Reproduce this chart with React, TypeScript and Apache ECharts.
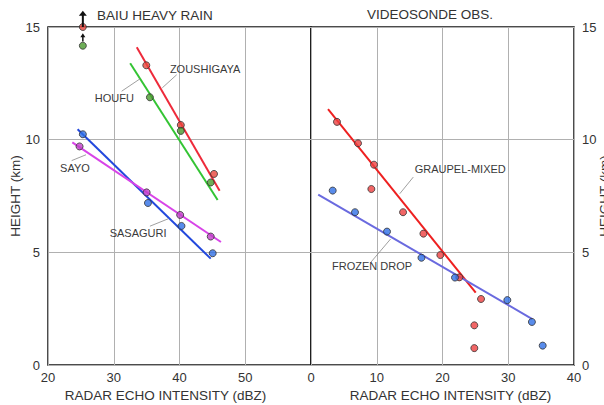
import React, { useEffect, useRef } from "react";
import * as echarts from "echarts";

// ---- Left panel: BAIU HEAVY RAIN (x: dBZ, y: km) ----
const leftXRange = [20, 60];
const rightXRange = [0, 40];
const yRange = [0, 15];
const tickStep = 5;
const xTickStep = 10;

const zoushigayaPts = [[25.3, 15.0], [34.95, 13.3], [40.2, 10.65], [45.25, 8.48]];
const houfuPts = [[25.3, 14.17], [35.5, 11.88], [40.2, 10.39], [44.75, 8.1]];
const sayoPts = [[24.8, 9.7], [35.0, 7.66], [40.1, 6.66], [44.75, 5.7]];
const sasaguriPts = [[25.3, 10.24], [35.2, 7.19], [40.3, 6.17], [45.05, 4.96]];

const zoushigayaFit = [[33.5, 14.1], [46.1, 7.73]];
const houfuFit = [[32.5, 13.39], [45.8, 7.32]];
const sasaguriFit = [[24.5, 10.46], [44.75, 4.72]];
const sayoFit = [[23.7, 9.88], [46.3, 5.46]];

// ---- Right panel: VIDEOSONDE OBS. ----
const graupelPts = [
  [3.95, 10.79], [7.15, 9.84], [9.58, 8.89], [9.18, 7.81], [14.0, 6.78], [17.1, 5.83],
  [19.67, 4.88], [22.56, 3.89], [25.86, 2.93], [24.84, 1.76], [24.84, 0.75],
];
const frozenPts = [
  [3.3, 7.74], [6.69, 6.78], [11.56, 5.92], [16.8, 4.76], [21.9, 3.88], [29.86, 2.88],
  [33.6, 1.91], [35.24, 0.86],
];
const graupelFit = [[2.59, 11.35], [25.05, 3.21]];
const frozenFit = [[1.1, 7.56], [33.66, 2.04]];

// Upward arrows (values above the top of the scale), grid 0
const arrowBig = { from: [25.3, 15.0], to: [25.3, 15.72] };
const arrowSmall = { from: [25.3, 14.36], to: [25.3, 14.72] };

// Annotations: [gridIndex, text, textPos, leaderFrom, leaderTo]
const annotations: [number, string, number[], number[], number[]][] = [
  [0, "ZOUSHIGAYA", [43.9, 13.15], [39.57, 12.88], [37.38, 12.3]],
  [0, "HOUFU", [30.1, 11.85], [31.2, 12.15], [34.0, 12.7]],
  [0, "SAYO", [24.1, 8.75], [23.6, 9.07], [25.78, 9.33]],
  [0, "SASAGURI", [33.7, 5.88], [35.5, 6.16], [38.3, 6.49]],
  [1, "GRAUPEL-MIXED", [22.7, 8.71], [15.56, 8.34], [13.5, 7.6]],
  [1, "FROZEN DROP", [9.28, 4.41], [9.1, 4.56], [12.1, 5.59]],
];

const titles = ["BAIU HEAVY RAIN", "VIDEOSONDE OBS."];
const xAxisName = "RADAR ECHO INTENSITY (dBZ)";
const yAxisName = "HEIGHT (km)";

const FONT = "Liberation Sans, Arial, sans-serif";
const TXT = "#333";

export default function App() {
  const ref = useRef<HTMLDivElement>(null);
  useEffect(() => {
    if (!ref.current) return;
    const chart = echarts.init(ref.current, null, { renderer: "svg" });

    const scatter = (gi: number, data: number[][], color: string) => ({
      type: "scatter",
      xAxisIndex: gi,
      yAxisIndex: gi,
      data,
      symbol: "circle",
      symbolSize: 7,
      itemStyle: { color, borderColor: "#333", borderWidth: 1 },
      z: 5,
      clip: false,
    });
    const fit = (gi: number, data: number[][], color: string) => ({
      type: "line",
      xAxisIndex: gi,
      yAxisIndex: gi,
      data,
      showSymbol: false,
      symbol: "none",
      lineStyle: { color, width: 2 },
      z: 3,
    });

    const xAxisCommon = {
      type: "value",
      interval: xTickStep,
      axisLine: { show: false },
      axisTick: { show: false },
      splitLine: { show: true, lineStyle: { color: "#b0b0b0", width: 1 } },
      axisLabel: { color: TXT, fontSize: 13, fontFamily: FONT, margin: 6 },
      name: xAxisName,
      nameLocation: "middle",
      nameGap: 20,
    };
    const yAxisCommon = {
      type: "value",
      min: yRange[0],
      max: yRange[1],
      interval: tickStep,
      axisLine: { show: false },
      axisTick: { show: false },
      splitLine: { show: true, lineStyle: { color: "#b0b0b0", width: 1 } },
      axisLabel: { color: TXT, fontSize: 13, fontFamily: FONT, margin: 8 },
      name: yAxisName,
      nameLocation: "middle",
      nameRotate: 90,
      nameMoveOverlap: false,
      nameTextStyle: { color: TXT, fontSize: 13.5, fontFamily: FONT },
    };

    const gridCommon = {
      top: 27,
      width: 263,
      height: 338,
      show: true,
      borderColor: "#111",
      borderWidth: 1.5,
      backgroundColor: "transparent",
      containLabel: false,
      outerBoundsMode: "none",
    };

    chart.setOption({
      animation: false,
      backgroundColor: "#fff",
      grid: [
        { ...gridCommon, left: 48 },
        { ...gridCommon, left: 311 },
      ],
      xAxis: [
        {
          ...xAxisCommon,
          gridIndex: 0,
          min: leftXRange[0],
          max: leftXRange[1],
          axisLabel: { ...xAxisCommon.axisLabel, showMaxLabel: false },
          nameTextStyle: { color: TXT, fontSize: 13.5, fontFamily: FONT, padding: [0, 28, 0, 0] },
        },
        {
          ...xAxisCommon,
          gridIndex: 1,
          min: rightXRange[0],
          max: rightXRange[1],
          nameTextStyle: { color: TXT, fontSize: 13.5, fontFamily: FONT, padding: [0, 0, 0, 16] },
        },
      ],
      yAxis: [
        { ...yAxisCommon, gridIndex: 0, position: "left", nameGap: 26 },
        { ...yAxisCommon, gridIndex: 1, position: "right", nameGap: 23 },
      ],
      series: [
        fit(0, zoushigayaFit, "#ee2a3a"),
        fit(0, houfuFit, "#33c433"),
        fit(0, sasaguriFit, "#2248dd"),
        fit(0, sayoFit, "#d844e8"),
        fit(1, graupelFit, "#ee2020"),
        fit(1, frozenFit, "#6a6adf"),
        scatter(0, zoushigayaPts, "#e8453c"),
        scatter(0, houfuPts, "#4a9a2e"),
        scatter(0, sayoPts, "#c040c8"),
        scatter(0, sasaguriPts, "#2f6fe6"),
        scatter(1, graupelPts, "#ee4040"),
        scatter(1, frozenPts, "#2f6fe6"),
      ],
    });

    const toPx = (gi: number, p: number[]) =>
      chart.convertToPixel({ xAxisIndex: gi, yAxisIndex: gi } as any, p) as number[];

    const graphics: any[] = [];
    // arrows
    const arrow = (a: { from: number[]; to: number[] }, head: number, halfW: number, w: number) => {
      const f = toPx(0, a.from);
      const t = toPx(0, a.to);
      graphics.push({
        type: "line",
        shape: { x1: f[0], y1: f[1], x2: t[0], y2: t[1] + head - 1 },
        style: { stroke: "#111", lineWidth: w },
        z: 10,
      });
      graphics.push({
        type: "polygon",
        shape: { points: [[t[0], t[1]], [t[0] - halfW, t[1] + head], [t[0] + halfW, t[1] + head]] },
        style: { fill: "#111" },
        z: 10,
      });
    };
    arrow(arrowBig, 5, 4, 2);
    arrow(arrowSmall, 4, 2.5, 1.5);

    annotations.forEach(([gi, text, at, from, to]) => {
      const a = toPx(gi, at);
      const f = toPx(gi, from);
      const t = toPx(gi, to);
      graphics.push({
        type: "line",
        shape: { x1: f[0], y1: f[1], x2: t[0], y2: t[1] },
        style: { stroke: "#888", lineWidth: 0.8 },
        z: 8,
      });
      graphics.push({
        type: "text",
        x: a[0],
        y: a[1],
        style: {
          text,
          fill: "#3a3a3a",
          font: `11px ${FONT}`,
          align: "center",
          verticalAlign: "middle",
        },
        z: 9,
      });
    });

    graphics.push({
      type: "text",
      x: 97,
      y: 15,
      style: { text: titles[0], fill: TXT, font: `13.5px ${FONT}`, align: "left", verticalAlign: "middle" },
    });
    graphics.push({
      type: "text",
      x: 430,
      y: 14,
      style: { text: titles[1], fill: TXT, font: `13.5px ${FONT}`, align: "center", verticalAlign: "middle" },
    });

    chart.setOption({ graphic: graphics });

    return () => chart.dispose();
  }, []);

  return (
    <div
      ref={ref}
      style={{ position: "fixed", left: 0, top: 0, width: 604, height: 405, background: "#fff" }}
    />
  );
}
